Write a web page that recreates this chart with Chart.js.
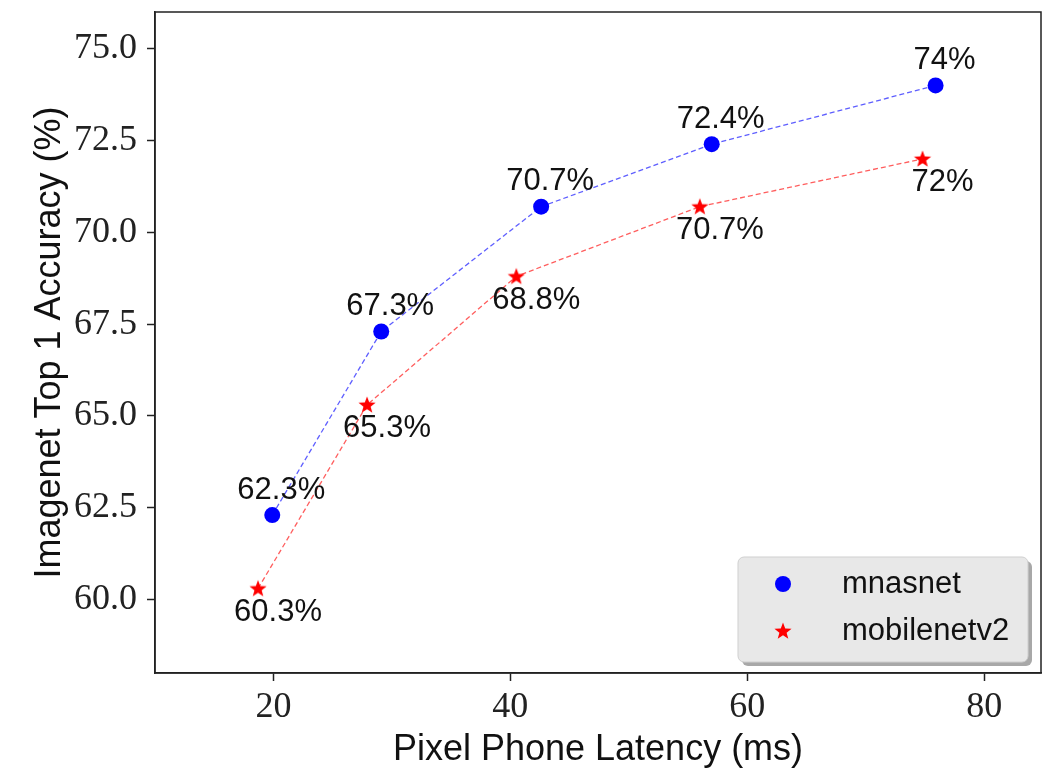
<!DOCTYPE html>
<html>
<head>
<meta charset="utf-8">
<script src="https://cdn.jsdelivr.net/npm/chart.js@4"></script>
<style>
  html, body { margin: 0; padding: 0; background: #fff; }
  canvas { display: block; }
</style>
</head>
<body>
<canvas id="chart" width="1043" height="774"></canvas>
<script>
// --- Data ---
const seriesNames = ['mnasnet', 'mobilenetv2'];
const mnasnetLatency = [19.9, 29.1, 42.6, 57.0, 75.9];
const mnasnetAccuracy = [62.3, 67.3, 70.7, 72.4, 74];
const mobilenetLatency = [18.7, 27.9, 40.5, 56.0, 74.8];
const mobilenetAccuracy = [60.3, 65.3, 68.8, 70.7, 72];
const xTicks = [20, 40, 60, 80];
const yTicks = [60, 62.5, 65, 67.5, 70, 72.5, 75];

const sansFont = "'Liberation Sans', Arial, sans-serif";
const serifFont = "'Liberation Serif', 'DejaVu Serif', serif";

// filled five-point star used as a point style
function makeStar(color) {
    const c = document.createElement('canvas');
    c.width = 20; c.height = 20;
    const g = c.getContext('2d');
    g.fillStyle = color;
    g.beginPath();
    for (let i = 0; i < 10; i++) {
        const r = i % 2 === 0 ? 9 : 3.8;
        const a = -Math.PI / 2 + i * Math.PI / 5;
        const px = 10 + r * Math.cos(a), py = 10.5 + r * Math.sin(a);
        if (i === 0) g.moveTo(px, py); else g.lineTo(px, py);
    }
    g.closePath();
    g.fill();
    return c;
}
const redStar = makeStar('#ff0000');

const toPoints = (xs, ys) => xs.map((x, i) => ({ x: x, y: ys[i] }));

// --- Value labels (above for mnasnet, below for mobilenetv2) ---
const labelPlugin = {
    id: 'valueLabels',
    afterDatasetsDraw(chart) {
        const ctx = chart.ctx;
        ctx.save();
        ctx.font = '31px ' + sansFont;
        ctx.fillStyle = '#111';
        ctx.textAlign = 'center';
        ctx.textBaseline = 'middle';
        chart.data.datasets.forEach((ds, di) => {
            const meta = chart.getDatasetMeta(di);
            meta.data.forEach((pt, i) => {
                const dy = di === 0 ? -25 : 24;
                const dx = di === 0 ? 9 : 20;
                ctx.fillText(ds.data[i].y + '%', pt.x + dx, pt.y + dy);
            });
        });
        ctx.restore();
    }
};

// --- Frame + legend box ---
const framePlugin = {
    id: 'frameLegend',
    afterDraw(chart) {
        const ctx = chart.ctx;
        const a = chart.chartArea;
        ctx.save();
        ctx.strokeStyle = '#222';
        ctx.lineWidth = 1.5;
        ctx.strokeRect(a.left, a.top, a.right - a.left, a.bottom - a.top);

        // legend box
        const w = 290, h = 105;
        const bx = a.right - 13 - w, by = a.bottom - 11 - h;
        ctx.fillStyle = '#a8a8a8';
        ctx.beginPath();
        ctx.roundRect(bx + 4, by + 4, w, h, 6);
        ctx.fill();
        ctx.fillStyle = '#e8e8e8';
        ctx.strokeStyle = '#cfcfcf';
        ctx.lineWidth = 1;
        ctx.beginPath();
        ctx.roundRect(bx, by, w, h, 6);
        ctx.fill();
        ctx.stroke();

        ctx.font = '31px ' + sansFont;
        ctx.fillStyle = '#111';
        ctx.textBaseline = 'middle';
        ctx.textAlign = 'left';
        // mnasnet
        ctx.fillStyle = '#0000ff';
        ctx.beginPath();
        ctx.arc(bx + 45, by + 27, 8, 0, Math.PI * 2);
        ctx.fill();
        ctx.fillStyle = '#111';
        ctx.fillText(seriesNames[0], bx + 104, by + 27);
        // mobilenetv2
        ctx.drawImage(redStar, bx + 35, by + 64);
        ctx.fillText(seriesNames[1], bx + 104, by + 74);
        ctx.restore();
    }
};

new Chart(document.getElementById('chart'), {
    type: 'scatter',
    data: {
        datasets: [{
            label: seriesNames[0],
            data: toPoints(mnasnetLatency, mnasnetAccuracy),
            showLine: true,
            borderColor: 'rgba(40, 40, 255, 0.75)',
            borderWidth: 1.3,
            borderDash: [5, 3],
            backgroundColor: '#0000ff',
            pointBackgroundColor: '#0000ff',
            pointBorderWidth: 0,
            pointRadius: 8
        }, {
            label: seriesNames[1],
            data: toPoints(mobilenetLatency, mobilenetAccuracy),
            showLine: true,
            borderColor: 'rgba(255, 40, 40, 0.75)',
            borderWidth: 1.3,
            borderDash: [5, 3],
            pointStyle: redStar,
            pointRadius: 9
        }]
    },
    options: {
        responsive: false,
        animation: false,
        layout: { autoPadding: false, padding: { top: 12, right: 2, left: 0, bottom: 0 } },
        plugins: {
            legend: { display: false },
            tooltip: { enabled: false }
        },
        scales: {
            x: {
                type: 'linear',
                min: 10,
                max: 84.8,
                afterFit: (s) => { s.height = 101; s.paddingLeft = 0; s.paddingRight = 0; },
                afterBuildTicks: (s) => { s.ticks = xTicks.map(v => ({ value: v })); },
                grid: { drawOnChartArea: false, color: '#222', tickLength: 8, tickWidth: 1.5 },
                border: { color: '#222', width: 1.5 },
                ticks: {
                    color: '#222',
                    padding: 5,
                    maxRotation: 0,
                    font: { family: serifFont, size: 36 }
                },
                title: {
                    display: true,
                    text: 'Pixel Phone Latency (ms)',
                    color: '#111',
                    padding: { top: 0, bottom: 2 },
                    font: { family: sansFont, size: 36 }
                }
            },
            y: {
                min: 58,
                max: 76,
                afterFit: (s) => { s.width = 155; s.paddingTop = 0; s.paddingBottom = 0; },
                afterBuildTicks: (s) => { s.ticks = yTicks.map(v => ({ value: v })); },
                grid: { drawOnChartArea: false, color: '#222', tickLength: 8, tickWidth: 1.5 },
                border: { color: '#222', width: 1.5 },
                ticks: {
                    color: '#222',
                    padding: 10,
                    font: { family: serifFont, size: 36 },
                    callback: (v) => Number(v).toFixed(1)
                },
                title: {
                    display: true,
                    text: 'Imagenet Top 1 Accuracy (%)',
                    color: '#111',
                    padding: { top: 28, bottom: 0 },
                    font: { family: sansFont, size: 36 }
                }
            }
        }
    },
    plugins: [labelPlugin, framePlugin]
});
</script>
</body>
</html>
